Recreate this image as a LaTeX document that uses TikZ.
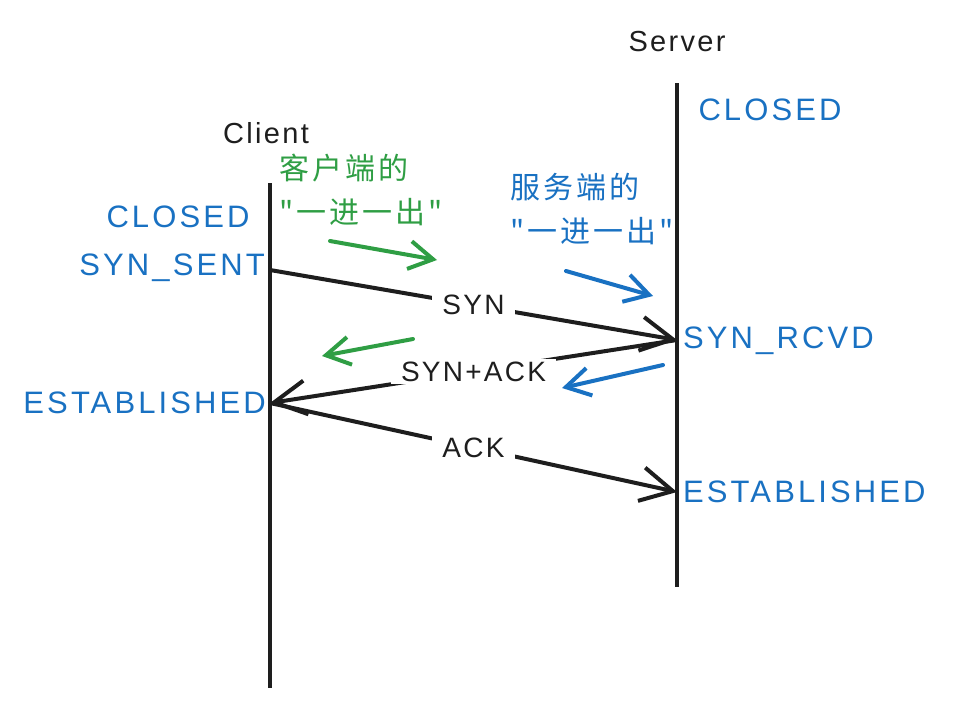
\documentclass[tikz,border=0pt]{standalone}
\usepackage{fontspec}
\setmainfont{Liberation Sans}
\newfontfamily\hand[LetterSpace=8]{Liberation Sans}
\newfontfamily\handwide[LetterSpace=10]{Liberation Sans}
\newfontfamily\cjk[LetterSpace=10]{Noto Sans CJK SC}
\usetikzlibrary{arrows.meta}
\definecolor{inkblack}{HTML}{1E1E1E}
\definecolor{inkblue}{HTML}{1971C2}
\definecolor{inkgreen}{HTML}{2F9E44}
\tikzset{
  lifeline/.style={draw=inkblack, line width=4pt},
  msg/.style={draw=inkblack, line width=4pt, -{Straight Barb[length=32pt,width=34pt,line width=4pt]}},
  msglabel/.style={fill=white, text=inkblack, inner xsep=10pt, inner ysep=3pt, font=\hand\fontsize{28}{30}\selectfont},
  state/.style={text=inkblue, inner sep=0pt, font=\handwide\fontsize{31}{33}\selectfont},
  actor/.style={text=inkblack, inner sep=0pt, font=\hand\fontsize{29}{31}\selectfont},
  note/.style={inner sep=0pt, align=left, font=\cjk\fontsize{30}{44}\selectfont},
  hint/.style={line width=4pt, line cap=round, -{Straight Barb[length=24pt,width=28pt,line width=4pt]}}
}
\begin{document}
\begin{tikzpicture}[x=1pt,y=-1pt]
\useasboundingbox (0,0) rectangle (965,704);
% lifelines
\coordinate (ctop) at (270,183);
\coordinate (cbot) at (270,688);
\coordinate (stop) at (677,83);
\coordinate (sbot) at (677,587);
\draw[lifeline] (ctop) -- (cbot);
\draw[lifeline] (stop) -- (sbot);
% actors
\node[actor] (client) at (266,133) {Client};
\node[actor] (server) at (677,42) {Server};
% events
\coordinate (c1) at (270,270);
\coordinate (s1) at (677,340);
\coordinate (c2) at (270,403);
\coordinate (s2) at (677,492);
\draw[msg] (c1) -- node[msglabel] (syn) {SYN} (s1);
\draw[msg] (s1) -- node[msglabel] (synack) {SYN+ACK} (c2);
\draw[msg] (c2) -- node[msglabel] (ack) {ACK} (s2);
% states
\node[state] (sclosed) at (770,110) {CLOSED};
\node[state] (cclosed) at (178,217) {CLOSED};
\node[state, anchor=east] (synsent) at (265,268) {SYN\_SENT};
\node[state, anchor=east] (cest) at (266,403) {ESTABLISHED};
\node[state, anchor=west] (synrcvd) at (683,341) {SYN\_RCVD};
\node[state, anchor=west] (sest) at (683,492) {ESTABLISHED};
% notes
\node[note, text=inkgreen] (cnote) at (361,190) {客户端的\\"一进一出"};
\node[note, text=inkblue] (snote) at (592,209) {服务端的\\"一进一出"};
% hint arrows
\coordinate (g1a) at (330,241);
\coordinate (g1b) at (437,260);
\coordinate (g2a) at (413,339);
\coordinate (g2b) at (322,356);
\coordinate (b1a) at (566,271);
\coordinate (b1b) at (653,296);
\coordinate (b2a) at (663,365);
\coordinate (b2b) at (562,388);
\draw[hint, draw=inkgreen] (g1a) -- (g1b);
\draw[hint, draw=inkgreen] (g2a) -- (g2b);
\draw[hint, draw=inkblue] (b1a) -- (b1b);
\draw[hint, draw=inkblue] (b2a) -- (b2b);
\end{tikzpicture}
\end{document}
